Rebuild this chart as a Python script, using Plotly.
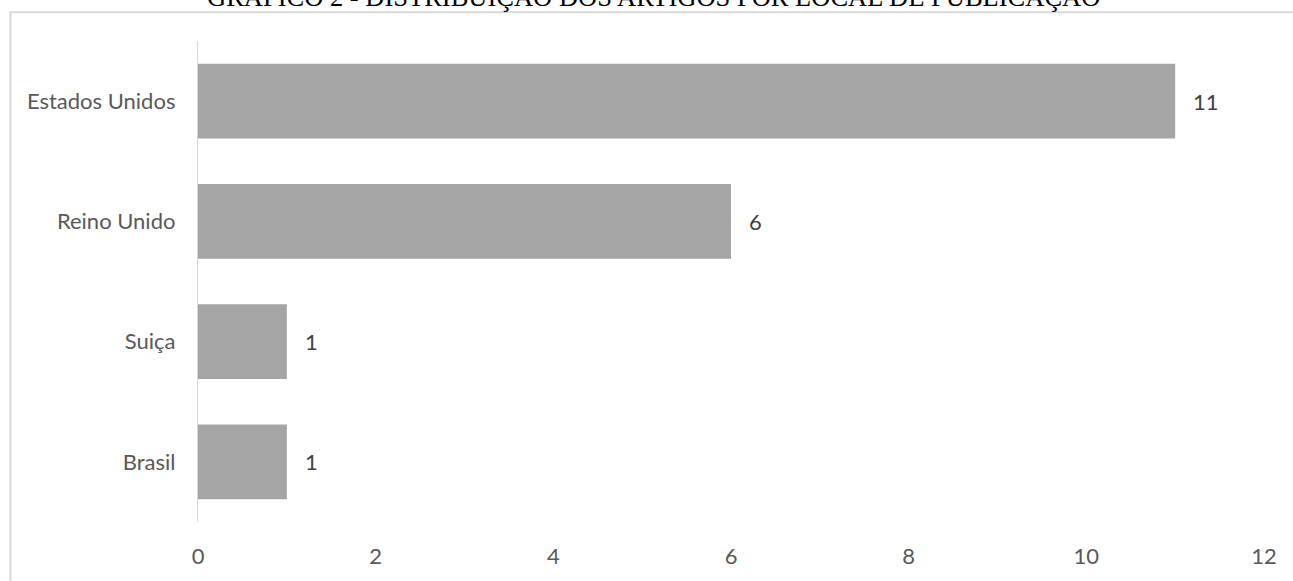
import plotly.graph_objects as go

categories = ["Estados Unidos", "Reino Unido", "Suiça", "Brasil"]
values = [11, 6, 1, 1]
x_ticks = [0, 2, 4, 6, 8, 10, 12]
title_text = "GRÁFICO 2 - DISTRIBUIÇÃO DOS ARTIGOS POR LOCAL DE PUBLICAÇÃO"

W, H = 1293, 581
L, R, T, B = 198, 29, 41, 55
pw, ph = W - L - R, H - T - B

def px_x(p):
    return (p - L) / pw

def px_y(p):
    return (H - B - p) / ph

FONT = "Lato, Open Sans, sans-serif"

fig = go.Figure()
fig.add_trace(go.Bar(
    x=values, y=categories, orientation="h",
    marker=dict(color="#A5A5A5", line=dict(width=0)),
    width=0.62, hoverinfo="x+y",
))

annotations = []
for c, v in zip(categories, values):
    annotations.append(dict(
        x=v, y=c, xref="x", yref="y", text=str(v), showarrow=False,
        xanchor="left", yanchor="middle", xshift=16,
        font=dict(family=FONT, size=22, color="#404040"),
    ))
annotations.append(dict(
    x=px_x(653), y=px_y(-3), xref="paper", yref="paper", text=title_text,
    showarrow=False, xanchor="center", yanchor="middle",
    font=dict(family="Liberation Serif, Times New Roman, serif", size=26.5, color="#000000"),
))

fig.update_layout(
    width=W, height=H,
    margin=dict(l=L, r=R, t=T, b=B, pad=0),
    paper_bgcolor="white", plot_bgcolor="white",
    showlegend=False,
    annotations=annotations,
    shapes=[dict(
        type="rect", xref="paper", yref="paper",
        x0=px_x(10.5), x1=px_x(1320), y0=px_y(12), y1=px_y(620),
        line=dict(color="#D9D9D9", width=2), fillcolor="rgba(0,0,0,0)", layer="below",
    )],
    xaxis=dict(
        range=[0, 12], tickvals=x_ticks, ticktext=[str(t) for t in x_ticks],
        showgrid=False, zeroline=False, showline=False, ticks="",
        tickfont=dict(family=FONT, size=22, color="#595959"),
        ticklabelstandoff=19, fixedrange=True,
    ),
    yaxis=dict(
        autorange="reversed", showgrid=False, zeroline=False,
        showline=True, linecolor="#D9D9D9", linewidth=1.3, ticks="",
        tickfont=dict(family=FONT, size=22, color="#595959"),
        ticklabelstandoff=17, fixedrange=True,
    ),
)

fig.write_html(
    "out.html",
    config={"displayModeBar": False},
    post_script="document.body.style.margin='0px';document.body.style.overflow='hidden';",
)
